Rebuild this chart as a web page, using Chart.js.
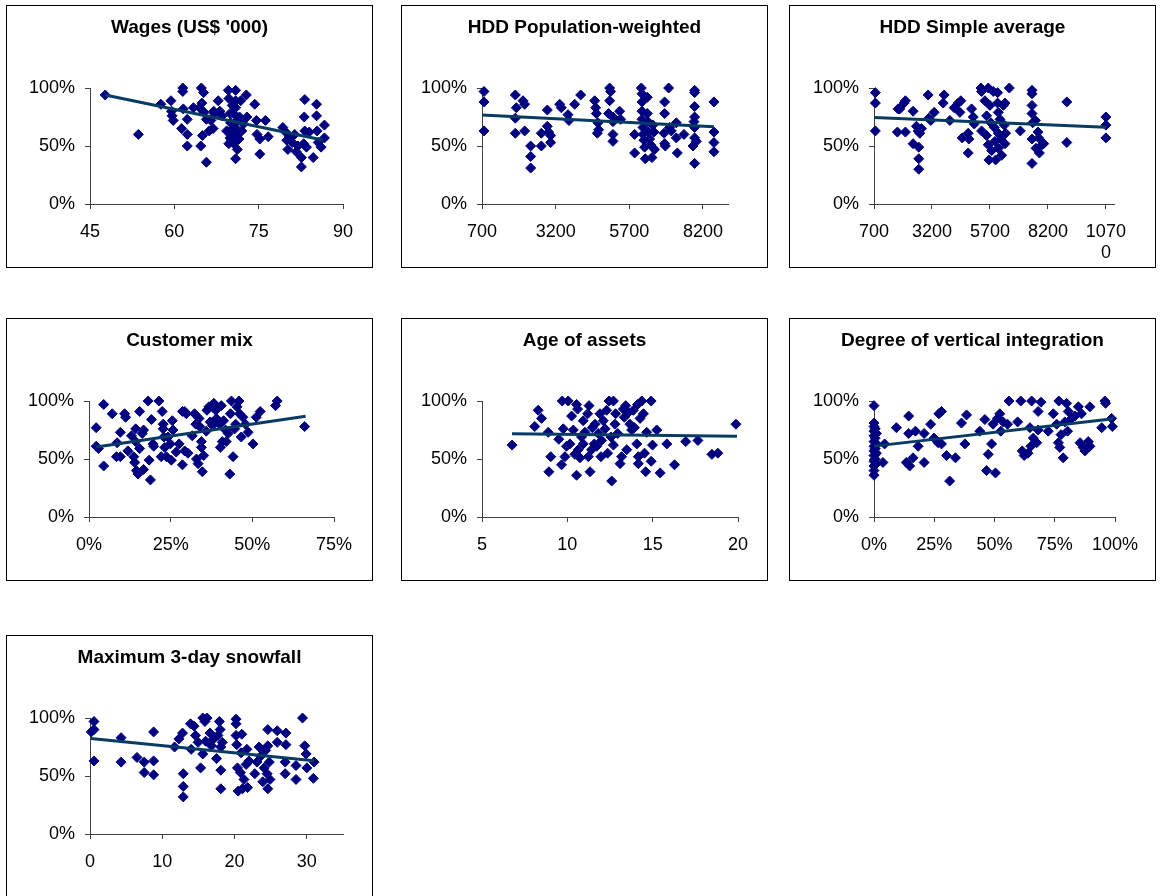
<!DOCTYPE html>
<html>
<head>
<meta charset="utf-8">
<script src="https://cdn.jsdelivr.net/npm/chart.js@4.4.1/dist/chart.umd.min.js"></script>
<style>
  html, body { margin: 0; padding: 0; background: #fff; width: 1160px; height: 896px; overflow: hidden; }
  .panel { position: absolute; border: 1px solid #000; background: #fff; width: 365px; height: 261px; }
  .panel canvas { display: block; }
</style>
</head>
<body>
<div class="panel" style="left:6px;top:5px"><canvas id="c1" width="365" height="261"></canvas></div>
<div class="panel" style="left:401px;top:5px"><canvas id="c2" width="365" height="261"></canvas></div>
<div class="panel" style="left:789px;top:5px"><canvas id="c3" width="365" height="261"></canvas></div>
<div class="panel" style="left:6px;top:318px"><canvas id="c4" width="365" height="261"></canvas></div>
<div class="panel" style="left:401px;top:318px"><canvas id="c5" width="365" height="261"></canvas></div>
<div class="panel" style="left:789px;top:318px"><canvas id="c6" width="365" height="261"></canvas></div>
<div class="panel" style="left:6px;top:635px"><canvas id="c7" width="365" height="261"></canvas></div>
<script>
// ---- Efficiency score (y, share) against each driver (x) ----

const yTicks = [0, 0.5, 1];

// Wages (US$ '000)
const wagesTitle = "Wages (US$ '000)";
const wagesTicks = [45, 60, 75, 90];
const wagesX = [47.7, 53.6, 57.6, 59.4, 59.5, 59.6, 59.8, 61.5, 61.5, 61.6, 61.3, 62.3, 62.3, 62.3, 64.8, 65.2, 64.9, 65.3, 65.7, 65.0, 64.7, 65.7, 66.2, 66.9, 67.1, 67.8, 68.1, 69.6, 69.7, 69.9, 70.0, 69.9, 69.9, 69.7, 70.5, 70.8, 70.9, 70.9, 70.9, 71.2, 71.0, 71.2, 70.9, 71.8, 72.0, 72.8, 72.9, 74.3, 74.6, 74.7, 75.2, 75.2, 76.2, 76.7, 79.3, 79.8, 80.0, 80.2, 80.5, 81.4, 81.7, 82.6, 82.6, 83.2, 83.1, 83.2, 83.0, 83.5, 84.7, 85.3, 85.3, 85.4, 85.6, 86.7, 86.7, 86.1, 70.2, 71.5, 72.3, 69.3, 64.5, 67.0, 68.5, 63.4, 66.5, 81.0, 82.0, 84.0, 70.3, 71.6, 70.6];
const wagesY = [0.94, 0.60, 0.86, 0.89, 0.80, 0.76, 0.72, 1.00, 0.97, 0.82, 0.65, 0.73, 0.60, 0.50, 1.00, 0.96, 0.87, 0.79, 0.73, 0.59, 0.50, 0.36, 0.63, 0.65, 0.78, 0.89, 0.80, 0.98, 0.91, 0.78, 0.70, 0.63, 0.57, 0.52, 0.78, 0.66, 0.98, 0.89, 0.83, 0.72, 0.60, 0.47, 0.39, 0.89, 0.63, 0.94, 0.75, 0.86, 0.72, 0.60, 0.56, 0.43, 0.72, 0.58, 0.66, 0.62, 0.55, 0.47, 0.58, 0.60, 0.45, 0.40, 0.32, 0.90, 0.75, 0.63, 0.52, 0.49, 0.40, 0.86, 0.76, 0.63, 0.53, 0.68, 0.57, 0.49, 0.55, 0.56, 0.69, 0.63, 0.83, 0.80, 0.76, 0.83, 0.72, 0.53, 0.50, 0.62, 0.85, 0.75, 0.52];
const wagesTrendX = [47.7, 86.4];
const wagesTrendY = [0.94, 0.552];

// HDD Population-weighted
const hddPopTitle = "HDD Population-weighted";
const hddPopTicks = [700, 3200, 5700, 8200];
const hddPopX = [768, 768, 768, 1831, 1865, 1831, 1831, 2091, 2148, 2148, 2352, 2352, 2352, 2714, 2714, 2917, 2917, 2962, 3030, 3030, 3336, 3392, 3619, 3652, 3845, 4049, 4524, 4558, 4580, 4637, 4659, 4614, 5032, 5066, 5032, 4998, 5145, 5145, 5145, 5145, 5371, 5405, 5881, 5881, 6107, 6130, 6130, 6130, 6130, 6164, 6164, 6198, 6220, 6243, 6311, 6311, 6334, 6356, 6390, 6424, 6469, 6503, 6537, 6560, 6899, 6899, 6877, 6899, 6922, 7035, 7069, 7126, 7295, 7295, 7330, 7555, 7917, 7917, 7917, 7917, 7895, 7917, 7917, 7861, 7917, 7974, 8573, 8573, 8573, 8573];
const hddPopY = [0.97, 0.88, 0.63, 0.94, 0.83, 0.74, 0.61, 0.89, 0.86, 0.63, 0.50, 0.41, 0.31, 0.50, 0.61, 0.81, 0.67, 0.62, 0.53, 0.59, 0.86, 0.83, 0.77, 0.72, 0.86, 0.94, 0.89, 0.83, 0.78, 0.70, 0.64, 0.61, 1.00, 0.97, 0.89, 0.78, 0.75, 0.71, 0.60, 0.54, 0.80, 0.73, 0.60, 0.44, 1.00, 0.95, 0.88, 0.80, 0.73, 0.66, 0.60, 0.55, 0.49, 0.39, 0.92, 0.78, 0.71, 0.62, 0.56, 0.51, 0.40, 0.68, 0.62, 0.47, 0.88, 0.78, 0.61, 0.52, 0.50, 1.00, 0.66, 0.63, 0.70, 0.57, 0.44, 0.60, 0.98, 0.96, 0.84, 0.75, 0.71, 0.66, 0.57, 0.50, 0.35, 0.54, 0.88, 0.62, 0.53, 0.45];
const hddPopTrendX = [700, 8573];
const hddPopTrendY = [0.768, 0.666];

// HDD Simple average
const hddAvgTitle = "HDD Simple average";
const hddAvgTicks = [700, 3200, 5700, 8200, 10700];
const hddAvgX = [758, 758, 758, 1709, 1738, 1810, 1997, 2055, 2055, 2386, 2386, 2530, 2602, 2674, 2631, 2631, 2631, 2746, 3035, 3063, 3150, 3294, 3726, 3683, 3971, 4158, 4331, 4446, 4403, 4504, 4763, 4792, 4763, 4907, 4979, 5023, 5311, 5340, 5340, 5484, 5556, 5628, 5556, 5628, 5657, 5700, 5743, 5772, 5844, 5887, 5916, 5945, 6031, 6031, 6060, 6060, 6060, 6132, 6175, 6204, 6276, 6319, 6348, 6348, 6376, 6535, 7010, 7514, 7514, 7514, 7514, 7543, 7514, 7514, 7658, 7687, 7773, 7802, 7831, 7946, 8018, 9014, 9014, 10700, 10700, 10700];
const hddAvgY = [0.96, 0.87, 0.63, 0.62, 0.82, 0.82, 0.87, 0.89, 0.62, 0.80, 0.52, 0.67, 0.63, 0.61, 0.49, 0.39, 0.30, 0.65, 0.94, 0.74, 0.72, 0.79, 0.94, 0.87, 0.72, 0.83, 0.87, 0.89, 0.79, 0.57, 0.61, 0.56, 0.44, 0.82, 0.75, 0.69, 1.00, 0.97, 0.63, 0.89, 0.76, 1.00, 0.59, 0.51, 0.38, 0.85, 0.70, 0.46, 0.97, 0.66, 0.54, 0.38, 0.96, 0.87, 0.79, 0.61, 0.48, 0.73, 0.56, 0.42, 0.85, 0.68, 0.87, 0.52, 0.61, 1.00, 0.63, 0.98, 0.95, 0.85, 0.78, 0.70, 0.56, 0.35, 0.72, 0.48, 0.62, 0.57, 0.44, 0.51, 0.52, 0.88, 0.53, 0.75, 0.68, 0.57];
const hddAvgTrendX = [700, 10700];
const hddAvgTrendY = [0.746, 0.662];

// Customer mix
const mixTitle = "Customer mix";
const mixTicks = [0, 0.25, 0.5, 0.75];
const mixX = [0.022, 0.022, 0.029, 0.045, 0.045, 0.071, 0.086, 0.084, 0.096, 0.096, 0.109, 0.112, 0.119, 0.130, 0.137, 0.140, 0.143, 0.143, 0.145, 0.150, 0.155, 0.155, 0.163, 0.167, 0.167, 0.181, 0.184, 0.188, 0.191, 0.196, 0.198, 0.214, 0.221, 0.224, 0.227, 0.227, 0.229, 0.232, 0.237, 0.242, 0.249, 0.252, 0.255, 0.257, 0.267, 0.276, 0.286, 0.286, 0.293, 0.298, 0.293, 0.303, 0.316, 0.323, 0.327, 0.329, 0.334, 0.337, 0.339, 0.344, 0.344, 0.347, 0.351, 0.359, 0.361, 0.367, 0.371, 0.378, 0.382, 0.388, 0.390, 0.400, 0.402, 0.405, 0.408, 0.412, 0.418, 0.420, 0.426, 0.431, 0.433, 0.436, 0.441, 0.446, 0.449, 0.453, 0.459, 0.461, 0.466, 0.471, 0.479, 0.487, 0.502, 0.512, 0.524, 0.571, 0.576, 0.660];
const mixY = [0.77, 0.61, 0.59, 0.97, 0.44, 0.89, 0.64, 0.52, 0.52, 0.73, 0.89, 0.86, 0.57, 0.70, 0.52, 0.47, 0.76, 0.65, 0.40, 0.37, 0.91, 0.59, 0.72, 0.75, 0.41, 1.00, 0.49, 0.32, 0.84, 0.63, 0.61, 1.00, 0.52, 0.91, 0.80, 0.76, 0.69, 0.60, 0.52, 0.69, 0.63, 0.49, 0.83, 0.75, 0.56, 0.63, 0.91, 0.45, 0.91, 0.89, 0.57, 0.55, 0.70, 0.89, 0.80, 0.50, 0.46, 0.85, 0.78, 0.65, 0.60, 0.39, 0.53, 0.74, 0.92, 0.95, 0.82, 0.79, 0.98, 0.92, 0.85, 0.80, 0.60, 0.96, 0.65, 0.83, 0.75, 0.65, 0.72, 0.37, 0.89, 1.00, 0.52, 0.76, 0.80, 0.95, 1.00, 0.89, 0.69, 0.86, 0.80, 0.73, 0.63, 0.86, 0.91, 0.96, 1.00, 0.78];
const mixTrendX = [0.022, 0.663];
const mixTrendY = [0.603, 0.868];

// Age of assets
const ageTitle = "Age of assets";
const ageTicks = [5, 10, 15, 20];
const ageX = [6.76, 8.09, 8.29, 8.49, 8.88, 8.92, 9.03, 9.50, 9.66, 9.70, 9.76, 9.86, 9.95, 10.05, 10.15, 10.25, 10.35, 10.44, 10.54, 10.54, 10.60, 10.64, 10.74, 10.83, 10.93, 10.93, 11.03, 11.19, 11.23, 11.27, 11.33, 11.42, 11.46, 11.58, 11.62, 11.72, 11.81, 11.91, 11.97, 12.01, 12.11, 12.21, 12.30, 12.36, 12.44, 12.56, 12.60, 12.70, 12.70, 12.79, 12.83, 12.95, 13.09, 13.18, 13.28, 13.34, 13.42, 13.48, 13.58, 13.67, 13.77, 13.87, 13.93, 14.07, 14.12, 14.16, 14.16, 14.26, 14.36, 14.46, 14.52, 14.59, 14.65, 14.91, 14.91, 14.99, 15.24, 15.44, 15.83, 16.28, 16.94, 17.65, 18.47, 18.82, 19.88];
const ageY = [0.62, 0.78, 0.92, 0.85, 0.73, 0.39, 0.52, 0.67, 0.45, 1.00, 0.76, 0.52, 0.61, 1.00, 0.63, 0.87, 0.75, 0.54, 0.36, 0.97, 0.93, 0.58, 0.51, 0.69, 0.83, 0.63, 0.73, 0.89, 0.52, 0.96, 0.39, 0.58, 0.77, 0.63, 0.80, 0.61, 0.72, 0.89, 0.52, 0.66, 0.83, 0.76, 0.92, 0.55, 1.00, 0.69, 0.31, 0.62, 1.00, 0.80, 0.89, 0.72, 0.46, 0.52, 0.93, 0.86, 0.96, 0.58, 0.90, 0.80, 0.75, 0.92, 0.77, 0.63, 0.97, 0.52, 0.46, 0.85, 1.00, 0.89, 0.55, 0.39, 0.73, 1.00, 0.48, 0.62, 0.75, 0.38, 0.63, 0.45, 0.65, 0.66, 0.54, 0.55, 0.80];
const ageTrendX = [6.76, 19.94];
const ageTrendY = [0.718, 0.696];

// Degree of vertical integration
const vertTitle = "Degree of vertical integration";
const vertTicks = [0, 0.25, 0.5, 0.75, 1];
const vertX = [0, 0, 0, 0, 0, 0, 0, 0, 0, 0, 0, 0, 0, 0.005, 0.005, 0.005, 0.005, 0.01, 0.01, 0.01, 0.01, 0.044, 0.037, 0.093, 0.134, 0.144, 0.148, 0.144, 0.162, 0.172, 0.183, 0.208, 0.208, 0.235, 0.249, 0.266, 0.269, 0.280, 0.280, 0.301, 0.314, 0.338, 0.363, 0.384, 0.377, 0.439, 0.460, 0.467, 0.474, 0.488, 0.494, 0.504, 0.512, 0.522, 0.526, 0.536, 0.554, 0.560, 0.596, 0.609, 0.615, 0.623, 0.639, 0.647, 0.651, 0.654, 0.661, 0.675, 0.681, 0.693, 0.681, 0.723, 0.744, 0.758, 0.767, 0.765, 0.771, 0.776, 0.785, 0.792, 0.799, 0.803, 0.806, 0.820, 0.834, 0.848, 0.855, 0.861, 0.868, 0.875, 0.889, 0.896, 0.896, 0.945, 0.958, 0.961, 0.986, 0.989];
const vertY = [0.96, 0.81, 0.78, 0.74, 0.70, 0.65, 0.61, 0.57, 0.53, 0.48, 0.44, 0.40, 0.36, 0.76, 0.68, 0.59, 0.50, 0.72, 0.63, 0.55, 0.46, 0.63, 0.47, 0.77, 0.47, 0.87, 0.44, 0.72, 0.51, 0.74, 0.61, 0.72, 0.47, 0.80, 0.68, 0.64, 0.89, 0.91, 0.63, 0.53, 0.31, 0.51, 0.81, 0.88, 0.63, 0.74, 0.84, 0.40, 0.54, 0.63, 0.80, 0.38, 0.85, 0.89, 0.74, 0.82, 0.80, 1.00, 0.82, 1.00, 0.57, 0.53, 0.55, 0.77, 0.61, 1.00, 0.68, 0.64, 0.91, 0.99, 0.75, 0.74, 0.89, 0.80, 1.00, 0.64, 0.60, 0.71, 0.51, 0.82, 0.98, 0.74, 0.91, 0.85, 0.87, 0.95, 0.64, 0.89, 0.60, 0.57, 0.65, 0.95, 0.61, 0.77, 1.00, 0.98, 0.85, 0.78];
const vertTrendX = [0, 0.993];
const vertTrendY = [0.611, 0.847];

// Maximum 3-day snowfall
const snowTitle = "Maximum 3-day snowfall";
const snowTicks = [0, 10, 20, 30];
const snowX = [0.55, 0.55, 0.18, 0.55, 4.3, 4.3, 6.5, 7.5, 7.5, 8.8, 8.8, 8.8, 11.7, 12.3, 12.8, 12.9, 12.9, 12.9, 13.9, 14.0, 14.4, 14.6, 14.95, 15.3, 15.6, 15.6, 15.9, 16.0, 16.2, 16.6, 16.8, 17.1, 17.5, 17.7, 17.9, 18.0, 18.1, 18.1, 18.1, 18.3, 20.2, 20.2, 20.2, 20.3, 20.4, 20.5, 20.8, 20.9, 21.0, 21.1, 21.3, 21.6, 21.8, 21.7, 22.0, 22.8, 23.1, 23.4, 23.6, 23.9, 24.1, 24.3, 24.5, 24.6, 24.6, 24.6, 24.8, 24.9, 25.9, 25.9, 27.1, 27.1, 27.0, 27.0, 28.5, 28.5, 29.4, 29.7, 29.9, 30.0, 31.0, 30.9];
const snowY = [0.97, 0.90, 0.88, 0.63, 0.83, 0.62, 0.66, 0.62, 0.53, 0.88, 0.63, 0.51, 0.75, 0.82, 0.87, 0.52, 0.41, 0.32, 0.95, 0.73, 0.93, 0.85, 0.79, 0.57, 0.69, 1.00, 0.97, 0.80, 1.00, 0.87, 0.76, 0.82, 0.65, 0.85, 0.97, 0.90, 0.75, 0.55, 0.39, 0.79, 0.99, 0.95, 0.85, 0.77, 0.57, 0.37, 0.53, 0.70, 0.86, 0.39, 0.47, 0.60, 0.40, 0.73, 0.63, 0.52, 0.62, 0.75, 0.67, 0.45, 0.57, 0.72, 0.52, 0.90, 0.39, 0.76, 0.62, 0.47, 0.89, 0.79, 0.87, 0.77, 0.62, 0.52, 0.59, 0.47, 1.00, 0.76, 0.69, 0.57, 0.62, 0.48];
const snowTrendX = [0.1, 31.0];
const snowTrendY = [0.823, 0.631];

// ---- drawing ----
const FONT = "'Liberation Sans', Arial, Helvetica, sans-serif";
const MARK = '#000080';
const TREND = '#083b63';
const AXIS = '#404040';

const pct = v => Math.round(v * 100) + '%';
const plain = v => String(v);
const wrapped = v => { const s = String(v); return s.length > 4 ? [s.slice(0, 4), s.slice(4)] : s; };

function pairs(xs, ys) { return xs.map((x, i) => ({ x: x, y: ys[i] })); }

// leftW: room for the value axis and its labels; rightW: empty margin right of the plot
function drawPanel(id, title, xs, ys, tx, ty, ticks, xMin, xMax, fmt, leftW, rightW) {
  new Chart(document.getElementById(id), {
    type: 'scatter',
    data: {
      datasets: [
        { type: 'line', data: pairs(tx, ty), borderColor: TREND, borderWidth: 3, pointRadius: 0,
          fill: false, tension: 0, clip: false, order: 0 },
        { data: pairs(xs, ys), pointStyle: 'rectRot', pointRadius: 5, pointHoverRadius: 5,
          backgroundColor: MARK, borderColor: MARK, borderWidth: 1, clip: false, order: 1 }
      ]
    },
    options: {
      responsive: false, animation: false, devicePixelRatio: 1,
      events: [],
      layout: { padding: 0 },
      plugins: {
        legend: { display: false },
        tooltip: { enabled: false },
        title: { display: true, text: title, color: '#000',
          font: { family: FONT, size: 19, weight: 'bold', lineHeight: 1.2 },
          padding: { top: 10, bottom: 49.2 } }
      },
      scales: {
        x: {
          type: 'linear', min: xMin, max: xMax,
          afterBuildTicks: s => { s.ticks = ticks.map(v => ({ value: v })); },
          afterFit: s => { s.height = 63; s.paddingLeft = 0; s.paddingRight = 0; },
          ticks: { color: '#000', font: { family: FONT, size: 18 }, padding: 12,
                   maxRotation: 0, autoSkip: false, callback: fmt },
          grid: { drawOnChartArea: false, drawTicks: true, tickLength: 5, color: AXIS, lineWidth: 1 },
          border: { color: AXIS, width: 1 }
        },
        y: {
          type: 'linear', position: 'left', min: 0, max: 1,
          afterBuildTicks: s => { s.ticks = yTicks.map(v => ({ value: v })); },
          afterFit: s => { s.width = leftW; s.paddingTop = 0; s.paddingBottom = 0; },
          ticks: { color: '#000', font: { family: FONT, size: 18 }, padding: 10,
                   autoSkip: false, callback: pct },
          grid: { drawOnChartArea: false, drawTicks: true, tickLength: 5, color: AXIS, lineWidth: 1 },
          border: { color: AXIS, width: 1 }
        },
        margin: {
          type: 'linear', position: 'right', min: 0, max: 1,
          afterFit: s => { s.width = rightW; s.paddingTop = 0; s.paddingBottom = 0; },
          ticks: { display: false },
          grid: { display: false, drawTicks: false },
          border: { display: false }
        }
      }
    }
  });
}

drawPanel('c1', wagesTitle, wagesX, wagesY, wagesTrendX, wagesTrendY, wagesTicks, 45, 90, plain, 83, 29);
drawPanel('c2', hddPopTitle, hddPopX, hddPopY, hddPopTrendX, hddPopTrendY, hddPopTicks, 700, 9050, plain, 80, 39);
drawPanel('c3', hddAvgTitle, hddAvgX, hddAvgY, hddAvgTrendX, hddAvgTrendY, hddAvgTicks, 700, 11050, wrapped, 84, 41);
drawPanel('c4', mixTitle, mixX, mixY, mixTrendX, mixTrendY, mixTicks, 0, 0.75, pct, 82, 38);
drawPanel('c5', ageTitle, ageX, ageY, ageTrendX, ageTrendY, ageTicks, 5, 20, plain, 80, 29);
drawPanel('c6', vertTitle, vertX, vertY, vertTrendX, vertTrendY, vertTicks, 0, 1, pct, 84, 40);
drawPanel('c7', snowTitle, snowX, snowY, snowTrendX, snowTrendY, snowTicks, 0, 35, plain, 83, 29);
</script>
</body>
</html>
